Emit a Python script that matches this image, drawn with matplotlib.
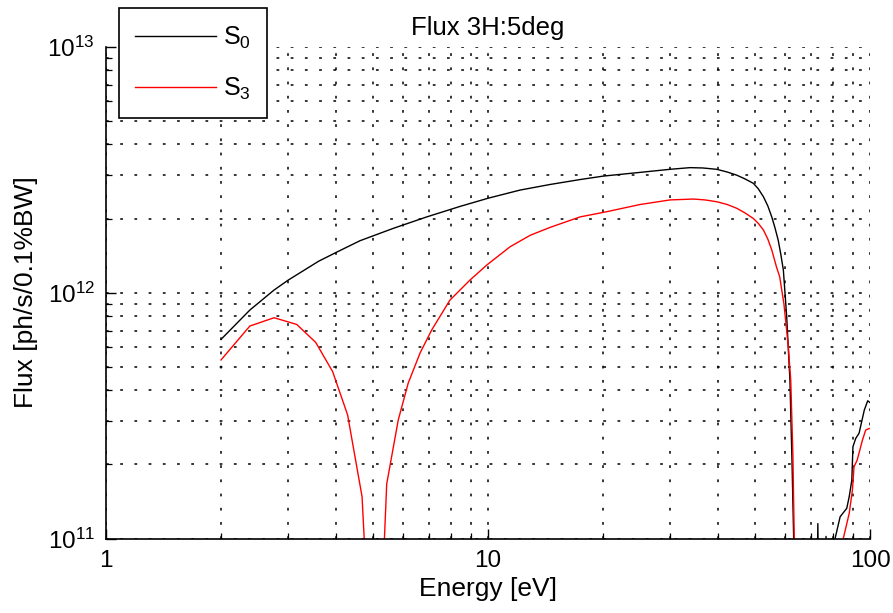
import numpy as np
import matplotlib
matplotlib.use("Agg")
import matplotlib.pyplot as plt
from matplotlib.ticker import LogLocator, NullFormatter, FixedLocator, FixedFormatter

plt.rcParams['font.family'] = ['Liberation Sans', 'DejaVu Sans']
plt.rcParams['mathtext.fontset'] = 'custom'
plt.rcParams['mathtext.rm'] = 'Liberation Sans'
plt.rcParams['mathtext.it'] = 'Liberation Sans:italic'

# S0 (total flux)
e_s0 = [2.0, 2.38, 2.754, 3.0, 3.6, 4.0, 4.62, 5.65, 6.91, 8.45, 10.02, 12.13,
        14.53, 17.41, 20.04, 25.0, 29.95, 33.8, 36.5, 39.7, 42.3, 44.8, 47.0,
        49.5, 51.0, 52.6, 54.0, 55.3, 56.4, 57.5, 58.4, 59.3, 60.5, 61.7, 62.5,
        63.2, 65.0, 72.6, 73.0, 73.4, 76.3, 76.7, 77.1, 80.0, 81.0, 83.5, 86.9,
        88.2, 89.6, 90.2, 91.7, 93.6, 96.6, 98.6, 100.0]
f_s0 = [6.45e11, 8.49e11, 1.024e12, 1.124e12, 1.34e12, 1.455e12, 1.624e12,
        1.824e12, 2.03e12, 2.24e12, 2.42e12, 2.61e12, 2.75e12, 2.88e12,
        2.975e12, 3.08e12, 3.17e12, 3.22e12, 3.21e12, 3.17e12, 3.09e12, 3.0e12,
        2.90e12, 2.78e12, 2.64e12, 2.45e12, 2.25e12, 2.03e12, 1.83e12, 1.63e12,
        1.43e12, 1.235e12, 8.0e11, 4.4e11, 2.0e11, 9.0e10, 5.0e10, 6.0e10,
        1.15e11, 6.0e10, 7.0e10, 1.02e11, 7.0e10, 8.0e10, 1.0e11, 1.226e11,
        1.327e11, 1.48e11, 1.73e11, 2.36e11, 2.55e11, 2.68e11, 3.33e11,
        3.63e11, 3.57e11]

# S3
e_s3 = [2.0, 2.38, 2.754, 3.157, 3.54, 3.92, 4.29, 4.68, 5.07, 5.43, 5.82,
        6.18, 6.64, 7.12, 7.95, 8.97, 9.92, 11.42, 12.9, 14.53, 17.41, 20.4,
        25.0, 29.95, 34.5, 37.0, 39.7, 42.3, 44.8, 47.0, 49.5, 51.0, 52.6, 54.0,
        55.3, 56.9, 58.0, 59.5, 61.0, 62.0, 62.8, 63.4, 64.0, 84.0, 85.1, 88.2,
        89.9, 90.8, 92.5, 95.5, 97.4, 99.4, 100.0]
f_s3 = [5.32e11, 7.31e11, 7.9e11, 7.42e11, 6.27e11, 4.77e11, 3.18e11, 1.48e11,
        1.3e10, 1.666e11, 3.03e11, 4.28e11, 5.68e11, 7.04e11, 9.32e11,
        1.124e12, 1.293e12, 1.535e12, 1.71e12, 1.84e12, 2.03e12, 2.13e12,
        2.28e12, 2.38e12, 2.40e12, 2.38e12, 2.34e12, 2.28e12, 2.20e12,
        2.11e12, 2.00e12, 1.91e12, 1.795e12, 1.65e12, 1.49e12, 1.27e12,
        1.16e12, 9.0e11, 6.2e11, 4.4e11, 2.2e11, 9.0e10, 5.0e10, 8.0e10,
        1.0e11, 1.266e11, 1.57e11, 1.96e11, 2.08e11, 2.51e11, 2.76e11, 2.8e11,
        2.8e11]

fig = plt.figure(figsize=(8.93, 6.13), dpi=100)
ax = fig.add_axes([0.1187, 0.1215, 0.8556, 0.8025])

ax.plot(e_s0, f_s0, color='black', lw=1.0, label='S$_0$')
ax.plot(e_s3, f_s3, color='red', lw=1.0, label='S$_3$')

ax.set_xscale('log')
ax.set_yscale('log')
ax.set_xlim(1, 100)
ax.set_ylim(1e11, 1e13)

ax.xaxis.set_major_locator(FixedLocator([1, 10, 100]))
ax.xaxis.set_major_formatter(FixedFormatter(['1', '10', '100']))
ax.xaxis.set_minor_locator(LogLocator(base=10, subs=np.arange(2, 10)))
ax.xaxis.set_minor_formatter(NullFormatter())
ax.yaxis.set_minor_locator(LogLocator(base=10, subs=np.arange(2, 10)))
ax.yaxis.set_minor_formatter(NullFormatter())

ax.spines['top'].set_visible(False)
ax.spines['right'].set_visible(False)
ax.spines['left'].set_linewidth(1.2)
ax.spines['bottom'].set_linewidth(1.2)
ax.tick_params(which='both', direction='in', top=False, right=False)
ax.tick_params(which='major', length=7, width=1.0, labelsize=17.5, pad=8)
ax.tick_params(which='minor', length=4, width=0.9)

ax.grid(True, which='both', color='black', lw=1.1, linestyle=(0, (1.8, 7.5)))

ax.set_xlabel('Energy [eV]', fontsize=19, labelpad=4)
ax.set_ylabel('Flux [ph/s/0.1%BW]', fontsize=19, labelpad=7)
ax.set_title('Flux 3H:5deg', fontsize=18.5, pad=8)

leg = ax.legend(loc='upper left', bbox_to_anchor=(0.017, 1.078), fontsize=18,
                handlelength=3.25, handletextpad=0.25, labelspacing=1.0,
                borderpad=0.65, fancybox=False, framealpha=1, borderaxespad=0)
leg.get_frame().set_edgecolor('black')
leg.get_frame().set_linewidth(1.2)

fig.savefig('out.png', dpi=100)
